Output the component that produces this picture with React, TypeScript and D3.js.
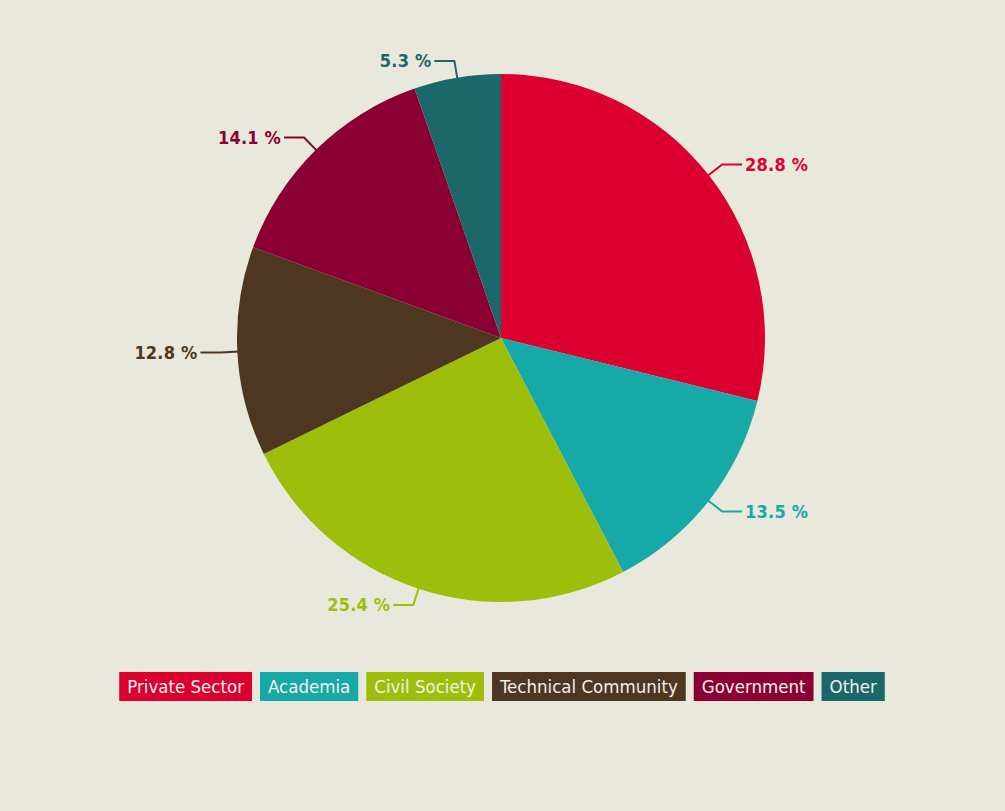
import React, { useEffect, useRef } from 'react';
import * as d3 from 'd3';

const categories = ['Private Sector', 'Academia', 'Civil Society', 'Technical Community', 'Government', 'Other'];
const shares = [28.8, 13.5, 25.4, 12.8, 14.1, 5.3];
const colors = ['#dc0031', '#17a9a8', '#9dbf0b', '#4e3720', '#8b0032', '#1b6769'];

const W = 1005;
const H = 811;
const FONT = "'Liberation Sans Narrow', 'DejaVu Sans Condensed', 'Roboto Condensed', sans-serif";

const App: React.FC = () => {
  const svgRef = useRef<SVGSVGElement>(null);

  useEffect(() => {
    if (!svgRef.current) return;
    const svg = d3.select(svgRef.current);
    svg.selectAll('*').remove();

    const cx = 501;
    const cy = 338;
    const r = 264;

    const data = categories.map((name, i) => ({ name, value: shares[i], color: colors[i] }));
    const pie = d3.pie<typeof data[0]>().value(d => d.value).sort(null);
    const arcs = pie(data);
    const arc = d3.arc<d3.PieArcDatum<typeof data[0]>>().innerRadius(0).outerRadius(r);

    const g = svg.append('g').attr('transform', `translate(${cx},${cy})`);

    g.selectAll('path.slice')
      .data(arcs)
      .join('path')
      .attr('class', 'slice')
      .attr('d', arc)
      .attr('fill', d => d.data.color);

    // labels with elbow connectors
    arcs.forEach(a => {
      const mid = (a.startAngle + a.endAngle) / 2;
      const sx = Math.sin(mid), sy = -Math.cos(mid);
      const p0 = [sx * (r - 2), sy * (r - 2)];
      const p1 = [sx * (r + 17), sy * (r + 17)];
      const right = sx >= 0;
      const p2 = [p1[0] + (right ? 20 : -20), p1[1]];
      g.append('path')
        .attr('d', `M${p0[0]},${p0[1]}L${p1[0]},${p1[1]}L${p2[0]},${p2[1]}`)
        .attr('fill', 'none')
        .attr('stroke', a.data.color)
        .attr('stroke-width', 2);
      g.append('text')
        .attr('x', p2[0] + (right ? 3 : -3))
        .attr('y', p1[1])
        .attr('dy', '0.35em')
        .attr('text-anchor', right ? 'start' : 'end')
        .attr('fill', a.data.color)
        .attr('font-family', FONT)
        .attr('font-weight', 'bold')
        .attr('font-size', 18)
        .attr('letter-spacing', 0.2)
        .text(`${a.data.value.toFixed(1)} %`);
    });

    // legend
    const legend = svg.append('g');
    const boxH = 29;
    const pad = 8;
    const gap = 8;
    const items = data.map(d => {
      const t = legend.append('text')
        .attr('font-family', FONT)
        .attr('font-size', 18.5)
        .attr('fill', '#f2f0ea')
        .text(d.name);
      const w = (t.node() as SVGTextElement).getComputedTextLength();
      return { d, t, w: w + pad * 2 };
    });
    const total = d3.sum(items, it => it.w) + gap * (items.length - 1);
    let x = 502 - total / 2;
    const y = 672;
    items.forEach(it => {
      legend.insert('rect', 'text')
        .attr('x', x)
        .attr('y', y)
        .attr('width', it.w)
        .attr('height', boxH)
        .attr('fill', it.d.color);
      it.t.attr('x', x + pad).attr('y', y + boxH / 2).attr('dy', '0.36em');
      x += it.w + gap;
    });
  }, []);

  return (
    <div style={{ position: 'fixed', left: 0, top: 0, width: W, height: H, background: '#e8e8dc' }}>
      <svg ref={svgRef} width={W} height={H} style={{ display: 'block' }} />
    </div>
  );
};

export default App;
